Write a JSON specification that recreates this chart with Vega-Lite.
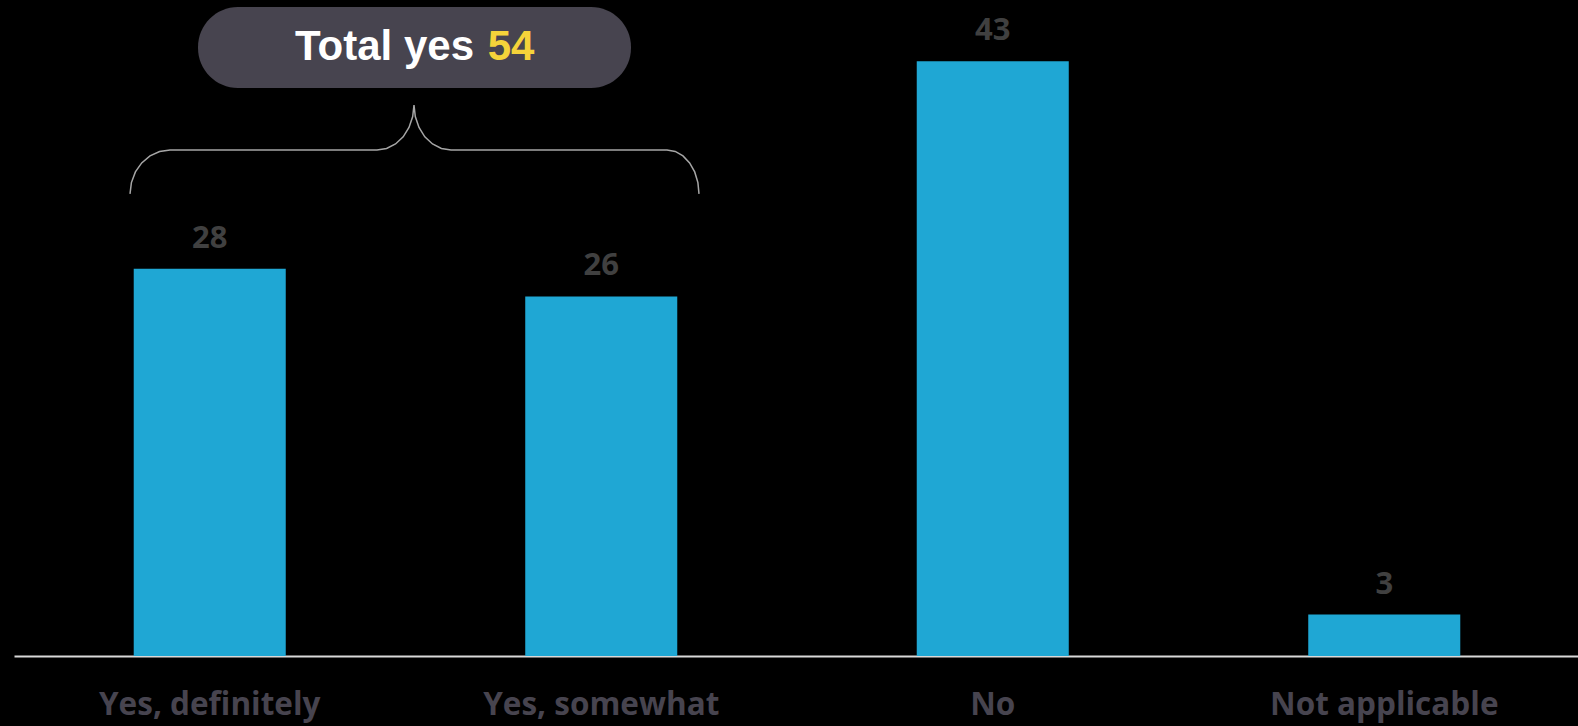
{
  "$schema": "https://vega.github.io/schema/vega-lite/v6.json",
  "width": 1566,
  "height": 656,
  "autosize": {"type": "none"},
  "padding": {"left": 14, "top": 0, "right": 0, "bottom": 70},
  "background": "#000000",
  "config": {"view": {"stroke": null}},
  "datasets": {
    "bars": [
      {"answer": "Yes, definitely", "pct": 28},
      {"answer": "Yes, somewhat", "pct": 26},
      {"answer": "No", "pct": 43},
      {"answer": "Not applicable", "pct": 3}
    ],
    "brace": [
      {"o": 1, "bx": 0.2963, "by": 33.41},
      {"o": 2, "bx": 0.2999, "by": 34.23},
      {"o": 3, "bx": 0.3101, "by": 35.0},
      {"o": 4, "bx": 0.3262, "by": 35.65},
      {"o": 5, "bx": 0.3474, "by": 36.16},
      {"o": 6, "bx": 0.3719, "by": 36.48},
      {"o": 7, "bx": 0.3985, "by": 36.59},
      {"o": 8, "bx": 0.9272, "by": 36.59},
      {"o": 9, "bx": 0.9517, "by": 36.7},
      {"o": 10, "bx": 0.9745, "by": 37.02},
      {"o": 11, "bx": 0.9941, "by": 37.54},
      {"o": 12, "bx": 1.0089, "by": 38.21},
      {"o": 13, "bx": 1.0184, "by": 39.0},
      {"o": 14, "bx": 1.0217, "by": 39.84},
      {"o": 15, "bx": 1.025, "by": 39.0},
      {"o": 16, "bx": 1.0345, "by": 38.21},
      {"o": 17, "bx": 1.0493, "by": 37.54},
      {"o": 18, "bx": 1.069, "by": 37.02},
      {"o": 19, "bx": 1.0917, "by": 36.7},
      {"o": 20, "bx": 1.1162, "by": 36.59},
      {"o": 21, "bx": 1.6679, "by": 36.59},
      {"o": 22, "bx": 1.6891, "by": 36.48},
      {"o": 23, "bx": 1.7088, "by": 36.16},
      {"o": 24, "bx": 1.7257, "by": 35.65},
      {"o": 25, "bx": 1.7387, "by": 35.0},
      {"o": 26, "bx": 1.7469, "by": 34.23},
      {"o": 27, "bx": 1.7497, "by": 33.41}
    ],
    "pill": [
      {"x1": 0.47, "x2": 1.576, "y1": 41.07, "y2": 46.93}
    ],
    "pilltext": [
      {"tx": 0.9464, "ty": 44.03, "label": "Total yes", "part": "a"},
      {"tx": 1.2695, "ty": 44.03, "label": "54", "part": "b"}
    ]
  },
  "layer": [
    {
      "data": {"name": "bars"},
      "mark": {"type": "bar", "color": "#1FA7D4"},
      "encoding": {
        "x": {
          "field": "answer", "type": "nominal", "sort": null,
          "scale": {"paddingInner": 0.6117, "paddingOuter": 0.3058},
          "axis": {
            "title": null, "labelAngle": 0, "ticks": false, "tickSize": 0,
            "domain": true, "domainColor": "#d9d9d9", "domainWidth": 2,
            "labelFont": "Open Sans", "labelFontWeight": "bold", "labelFontSize": 31.5,
            "labelColor": "#47444f", "labelBaseline": "alphabetic", "labelPadding": 58,
            "labelOverlap": false, "labelLimit": 0, "grid": false
          }
        },
        "y": {"field": "pct", "type": "quantitative", "scale": {"domain": [0, 47.43], "nice": false, "zero": true}, "axis": null}
      }
    },
    {
      "data": {"name": "bars"},
      "mark": {"type": "text", "font": "Open Sans", "fontWeight": "bold", "fontSize": 31, "color": "#404040", "baseline": "alphabetic", "dy": -21},
      "encoding": {
        "x": {"field": "answer", "type": "nominal", "sort": null, "axis": null},
        "y": {"field": "pct", "type": "quantitative", "axis": null},
        "text": {"field": "pct", "type": "quantitative"}
      }
    },
    {
      "layer": [
        {
          "data": {"name": "brace"},
          "mark": {"type": "line", "color": "#a6a6a6", "strokeWidth": 1.5},
          "encoding": {
            "x": {"field": "bx", "type": "quantitative", "scale": {"domain": [0, 4], "nice": false, "zero": false}, "axis": null},
            "y": {"field": "by", "type": "quantitative", "axis": null},
            "order": {"field": "o", "type": "quantitative"}
          }
        },
        {
          "data": {"name": "pill"},
          "mark": {"type": "rect", "color": "#47444f", "cornerRadius": 40},
          "encoding": {
            "x": {"field": "x1", "type": "quantitative", "axis": null},
            "x2": {"field": "x2"},
            "y": {"field": "y1", "type": "quantitative", "axis": null},
            "y2": {"field": "y2"}
          }
        },
        {
          "data": {"name": "pilltext"},
          "mark": {"type": "text", "font": "Liberation Sans", "fontWeight": "bold", "fontSize": 42, "baseline": "middle", "align": "center"},
          "encoding": {
            "x": {"field": "tx", "type": "quantitative", "axis": null},
            "y": {"field": "ty", "type": "quantitative", "axis": null},
            "text": {"field": "label"},
            "color": {"field": "part", "type": "nominal", "scale": {"domain": ["a", "b"], "range": ["#ffffff", "#F5D33A"]}, "legend": null}
          }
        }
      ]
    }
  ],
  "resolve": {"scale": {"x": "independent"}, "axis": {"x": "independent"}}
}
